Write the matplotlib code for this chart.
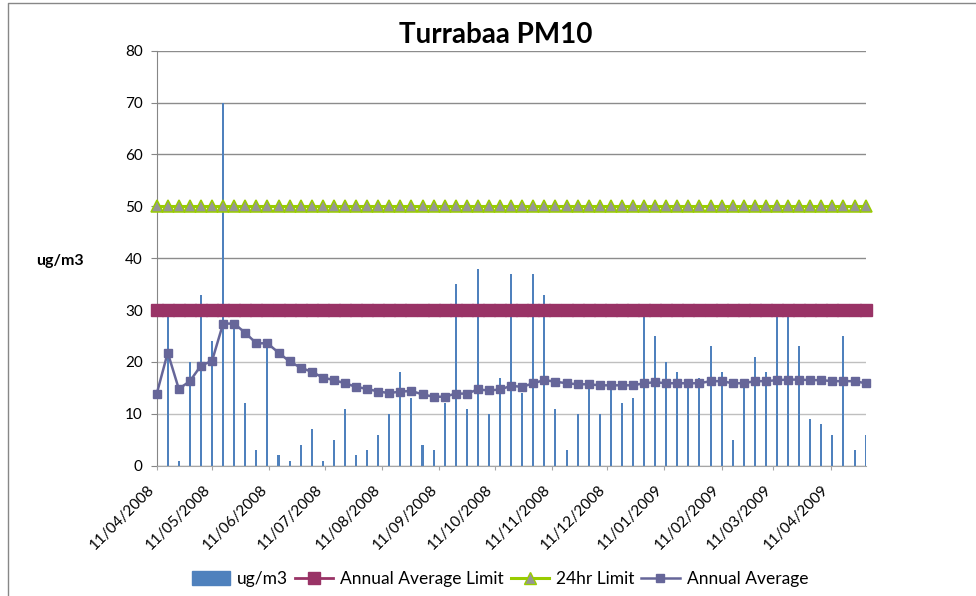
import numpy as np
import pandas as pd
import matplotlib
matplotlib.use("Agg")
import matplotlib.pyplot as plt
import matplotlib.dates as mdates
import matplotlib.transforms as mtransforms
from matplotlib.lines import Line2D
from matplotlib.patches import Patch

plt.rcParams['font.family'] = ['Lato', 'DejaVu Sans']

# 24h PM10 samples, one every 6 days from 11/04/2008
pm10 = [14, 30, 1, 20, 33, 24, 70, 27, 12, 3,
        24, 2, 1, 4, 7, 1, 5, 11, 2, 3,
        6, 10, 18, 13, 4, 3, 12, 35, 11, 38,
        10, 17, 37, 14, 37, 33, 11, 3, 10, 16,
        10, 15, 12, 13, 31, 25, 20, 18, 15, 17,
        23, 18, 5, 16, 21, 18, 30, 30, 23, 9,
        8, 6, 25, 3, 6]
annual_avg = [13.8, 21.8, 14.8, 16.3, 19.3, 20.2, 27.4, 27.4, 25.6, 23.6,
              23.6, 21.8, 20.1, 18.9, 18.1, 17.0, 16.5, 15.9, 15.2, 14.8,
              14.3, 14.0, 14.3, 14.4, 13.75, 13.3, 13.3, 13.9, 13.9, 14.7,
              14.5, 14.7, 15.4, 15.2, 15.9, 16.5, 16.2, 15.9, 15.7, 15.7,
              15.5, 15.5, 15.5, 15.5, 15.9, 16.1, 15.9, 15.9, 15.9, 15.9,
              16.3, 16.3, 15.9, 15.9, 16.3, 16.3, 16.5, 16.6, 16.6, 16.5,
              16.5, 16.3, 16.3, 16.3, 15.9]
annual_limit = [30] * len(pm10)
day_limit = [50] * len(pm10)
dates = pd.date_range('2008-04-11', periods=len(pm10), freq='6D')

fig = plt.figure(figsize=(9.76, 5.96), dpi=100)
ax = fig.add_axes([0.1605, 0.2186, 0.7264, 0.6963])

ax.bar(dates, pm10, width=1.1, color='#4F81BD', zorder=2)
ax.plot(dates, day_limit, color='#99CC00', lw=2.2, marker='^', ms=9,
        mfc='#969696', mec='#99CC00', mew=1.1, zorder=3, clip_on=False)
ax.plot(dates, annual_limit, color='#993366', lw=2, marker='s', ms=8.6,
        mfc='#993366', mec='#993366', zorder=3, clip_on=False)
ax.plot(dates, annual_avg, color='#666699', lw=1.8, marker='s', ms=5.8,
        mfc='#666699', mec='#666699', zorder=4, clip_on=False)

ax.set_xlim(dates[0], dates[-1])
ax.set_ylim(0, 80)
ax.set_yticks(range(0, 81, 10))
ax.grid(axis='y', color='#8C8C8C', lw=1)
ax.set_axisbelow(True)
for i, gl in enumerate(ax.get_ygridlines()):
    if i in (1, 2):
        gl.set_color('#BFBFBF')

ax.xaxis.set_major_locator(mdates.MonthLocator(bymonthday=11))
ax.xaxis.set_major_formatter(mdates.DateFormatter('%d/%m/%Y'))
ax.tick_params(axis='x', length=3, color='#A6A6A6', pad=13, labelsize=11)
ax.tick_params(axis='y', length=4, color='#868686', pad=6, labelsize=11)
shift = mtransforms.ScaledTranslation(-4 / 100, 0, fig.dpi_scale_trans)
for lbl in ax.get_xticklabels():
    lbl.set_rotation(45)
    lbl.set_rotation_mode('anchor')
    lbl.set_ha('right')
    lbl.set_va('center')
    lbl.set_transform(lbl.get_transform() + shift)

for s in ('top', 'right'):
    ax.spines[s].set_visible(False)
ax.spines['left'].set_color('#868686')
ax.spines['bottom'].set_color('#A6A6A6')

fig.text(496 / 976, 1 - 35 / 596, 'Turrabaa PM10', ha='center', va='center',
         fontsize=20, fontweight='bold')
fig.text(60 / 976, 1 - 261 / 596, 'ug/m3', ha='center', va='center',
         fontsize=11.5, fontweight='bold')

handles = [
    Patch(color='#4F81BD', label='ug/m3'),
    Line2D([], [], color='#993366', lw=2, marker='s', ms=8.6, label='Annual Average Limit'),
    Line2D([], [], color='#99CC00', lw=2.2, marker='^', ms=9, mfc='#969696',
           mec='#99CC00', label='24hr Limit'),
    Line2D([], [], color='#666699', lw=1.8, marker='s', ms=5.8, label='Annual Average'),
]
fig.legend(handles=handles, loc='center', bbox_to_anchor=(500 / 976, 1 - 579 / 596),
           ncol=4, frameon=False, fontsize=12.5, handlelength=2.2, handleheight=0.8,
           handletextpad=0.4, columnspacing=0.4, borderaxespad=0)

# chart area border (cut off at right and bottom)
fig.add_artist(Line2D([8 / 976, 8 / 976, 1.0], [0.0, 1 - 3 / 596, 1 - 3 / 596],
                      transform=fig.transFigure, color='#878787', lw=1))

fig.savefig('out.png', dpi=100)
